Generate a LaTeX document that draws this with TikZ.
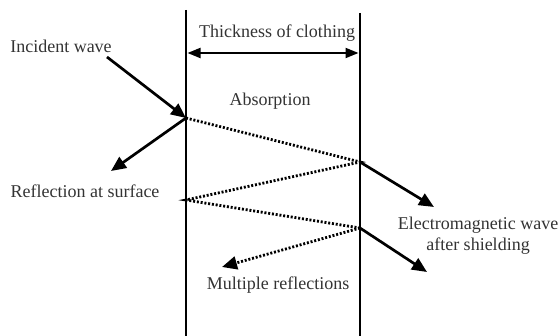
\documentclass[tikz,border=0pt]{standalone}
\usepackage{fontspec}
\setmainfont{Liberation Serif}
\usetikzlibrary{arrows.meta}
\begin{document}
\begin{tikzpicture}[x=1pt,y=-1pt,
  wall/.style={line width=2.7pt},
  ray/.style={line width=2.7pt,-{Triangle[length=15pt,width=13pt]}},
  dray/.style={line width=2.8pt,dash pattern=on 2pt off 1.8pt},
  lbl/.style={font=\fontsize{18}{21}\selectfont,inner sep=0pt,text=black!80}]
\useasboundingbox (0,0) rectangle (559,336);
\coordinate (LT) at (186,10);
\coordinate (LB) at (186,336);
\coordinate (RT) at (360,13);
\coordinate (RB) at (360,336);
\draw[wall] (LT) -- (LB);
\draw[wall] (RT) -- (RB);
\coordinate (TL) at (187.5,53);
\coordinate (TR) at (358.5,53);
\draw[line width=2pt,{Triangle[length=13pt,width=10pt]}-{Triangle[length=13pt,width=10pt]}] (TL) -- (TR);
\node[lbl] (thick) at (277,33) {Thickness of clothing};
\node[lbl] (inc) at (61,46) {Incident wave};
\node[lbl] (abs) at (270,101) {Absorption};
\node[lbl] (refl) at (85,191) {Reflection at surface};
\node[lbl,align=center] (em) at (478,236) {Electromagnetic wave\\after shielding};
\node[lbl] (mult) at (278,285) {Multiple reflections};
\coordinate (P1) at (186,118);
\coordinate (P2) at (360,162);
\coordinate (P3) at (186,200);
\coordinate (P4) at (360,228);
\coordinate (IS) at (107,57);
\coordinate (RE) at (111,171);
\coordinate (T1) at (434,207);
\coordinate (T2) at (427,272);
\coordinate (ME) at (222,267);
\draw[ray] (IS) -- (P1);
\draw[ray] (P1) -- (RE);
\draw[dray] (P1) -- (P2) -- (P3) -- (P4);
\draw[dray,-{Triangle[length=15pt,width=13pt]}] (P4) -- (ME);
\draw[ray] (P2) -- (T1);
\draw[ray] (P4) -- (T2);
\end{tikzpicture}
\end{document}
